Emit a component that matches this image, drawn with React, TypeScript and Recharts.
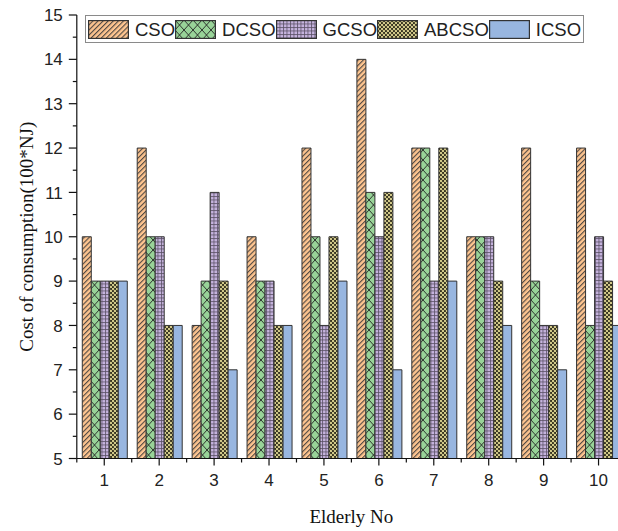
import { BarChart, Bar, XAxis, YAxis, Legend } from "recharts";

const elderlyNo = ["1", "2", "3", "4", "5", "6", "7", "8", "9", "10"];
const csoCost = [10, 12, 8, 10, 12, 14, 12, 10, 12, 12];
const dcsoCost = [9, 10, 9, 9, 10, 11, 12, 10, 9, 8];
const gcsoCost = [9, 10, 11, 9, 8, 10, 9, 10, 8, 10];
const abcsoCost = [9, 8, 9, 8, 10, 11, 12, 9, 8, 9];
const icsoCost = [9, 8, 7, 8, 9, 7, 9, 8, 7, 8];

const yTicks = [5, 5.5, 6, 6.5, 7, 7.5, 8, 8.5, 9, 9.5, 10, 10.5, 11, 11.5, 12, 12.5, 13, 13.5, 14, 14.5, 15];

const data = elderlyNo.map((no, i) => ({
  no,
  CSO: csoCost[i],
  DCSO: dcsoCost[i],
  GCSO: gcsoCost[i],
  ABCSO: abcsoCost[i],
  ICSO: icsoCost[i],
}));

const series = [
  { key: "CSO", fill: "url(#pCSO)" },
  { key: "DCSO", fill: "url(#pDCSO)" },
  { key: "GCSO", fill: "url(#pGCSO)" },
  { key: "ABCSO", fill: "url(#pABCSO)" },
  { key: "ICSO", fill: "#98B6E0" },
];

const sans = "'Liberation Sans', Arial, sans-serif";
const serif = "'Liberation Serif', 'Times New Roman', serif";

function YTick({ x, y, payload }: any) {
  const major = Number.isInteger(payload.value);
  return (
    <g>
      <line x1={x - (major ? 8 : 4)} x2={x} y1={y} y2={y} stroke="#111" strokeWidth={1.2} />
      {major && (
        <text x={x - 14} y={y} dy="0.36em" textAnchor="end" fontSize={17} fontFamily={sans} fill="#222">
          {payload.value}
        </text>
      )}
    </g>
  );
}

// minor ticks sit halfway between categories (band = axis width / tick count)
function XTick({ x, y, payload, width, visibleTicksCount, index }: any) {
  const band = width && visibleTicksCount ? Number(width) / visibleTicksCount : 0;
  const last = index === visibleTicksCount - 1;
  return (
    <g>
      <line x1={x} x2={x} y1={y} y2={y + 7} stroke="#111" strokeWidth={1.2} />
      {band > 0 && (
        <line x1={x - band / 2} x2={x - band / 2} y1={y} y2={y + 4} stroke="#111" strokeWidth={1.2} />
      )}
      {band > 0 && last && (
        <line x1={x + band / 2} x2={x + band / 2} y1={y} y2={y + 4} stroke="#111" strokeWidth={1.2} />
      )}
      <text x={x} y={y + 27} textAnchor="middle" fontSize={17} fontFamily={sans} fill="#222">
        {payload.value}
      </text>
    </g>
  );
}

function LegendBox() {
  return (
    <div
      style={{
        boxSizing: "border-box",
        width: 499,
        height: 28,
        border: "1.5px solid #8a8a8a",
        display: "flex",
        alignItems: "center",
        paddingLeft: 2,
        fontFamily: sans,
        fontSize: 18.5,
        color: "#222",
        background: "#fff",
      }}
    >
      {series.map((s) => (
        <div key={s.key} style={{ display: "flex", alignItems: "center" }}>
          <svg width={41} height={19} style={{ display: "block", marginRight: 6 }}>
            <rect x={0.6} y={0.6} width={39.8} height={17.8} fill={s.fill} stroke="#333" strokeWidth={1.2} />
          </svg>
          <span style={{ lineHeight: "19px" }}>{s.key}</span>
        </div>
      ))}
    </div>
  );
}

export default function App() {
  return (
    <div
      style={{
        position: "absolute",
        left: 0,
        top: 0,
        width: 618,
        height: 531,
        overflow: "hidden",
        background: "#fff",
      }}
    >
      <BarChart
        width={660}
        height={531}
        data={data}
        margin={{ top: 15, right: 34, bottom: 0, left: 0 }}
        barCategoryGap="10%"
        barGap={0}
      >
        <defs>
          <pattern id="pCSO" patternUnits="userSpaceOnUse" width={3.6} height={3.6} patternTransform="rotate(45)">
            <rect width={3.6} height={3.6} fill="#FEC590" />
            <line x1={0.6} y1={0} x2={0.6} y2={3.6} stroke="#3a3a3a" strokeWidth={1} />
          </pattern>
          <pattern id="pDCSO" patternUnits="userSpaceOnUse" width={9} height={10}>
            <rect width={9} height={10} fill="#98D398" />
            <path d="M0 0L9 10M9 0L0 10" stroke="#222" strokeWidth={0.9} />
          </pattern>
          <pattern id="pGCSO" patternUnits="userSpaceOnUse" width={3.5} height={3.5}>
            <rect width={3.5} height={3.5} fill="#C6B4DE" />
            <path d="M0 0.5H3.5M0.5 0V3.5" stroke="#5a5066" strokeWidth={0.8} />
          </pattern>
          <pattern id="pABCSO" patternUnits="userSpaceOnUse" width={4} height={4}>
            <rect width={4} height={4} fill="#35321f" />
            <circle cx={1} cy={1} r={1.2} fill="#D5CD8C" />
            <circle cx={3} cy={3} r={1.2} fill="#D5CD8C" />
          </pattern>
        </defs>
        <XAxis
          dataKey="no"
          height={72.5}
          interval={0}
          tickSize={0}
          tickMargin={0}
          tickLine={false}
          tick={<XTick />}
          axisLine={{ stroke: "#111", strokeWidth: 1.2 }}
          label={{
            value: "Elderly No",
            position: "insideBottom",
            offset: 8,
            style: { fontFamily: serif, fontSize: 19, fill: "#111" },
          }}
        />
        <YAxis
          type="number"
          domain={[5, 15]}
          ticks={yTicks}
          interval={0}
          width={76.8}
          tickSize={0}
          tickMargin={0}
          tickLine={false}
          tick={<YTick />}
          axisLine={{ stroke: "#111", strokeWidth: 1.2 }}
          label={{
            value: "Cost of consumption(100*NJ)",
            angle: -90,
            position: "insideLeft",
            offset: 26,
            style: { textAnchor: "middle", fontFamily: serif, fontSize: 19, fill: "#111" },
          }}
        />
        <Legend
          layout="horizontal"
          verticalAlign="middle"
          align="center"
          wrapperStyle={{ top: 15, left: 85, width: 499, height: 28 }}
          content={() => <LegendBox />}
        />
        {series.map((s) => (
          <Bar
            key={s.key}
            dataKey={s.key}
            fill={s.fill}
            stroke="#333"
            strokeWidth={1}
            isAnimationActive={false}
          />
        ))}
      </BarChart>
    </div>
  );
}
